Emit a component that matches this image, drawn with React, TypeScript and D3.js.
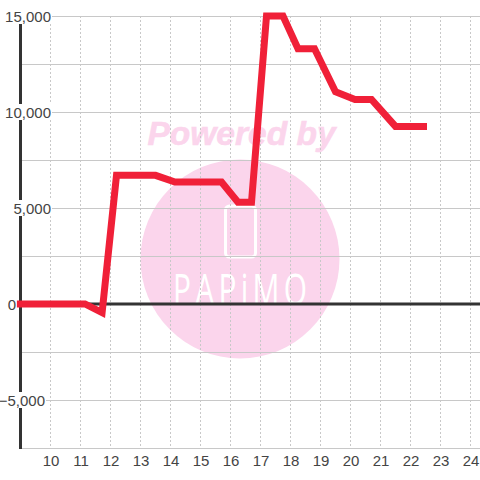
import { useRef, useEffect } from "react";
import * as d3 from "d3";

const WIDTH = 480;
const HEIGHT = 480;

const HOURS = [10, 11, 12, 13, 14, 15, 16, 17, 18, 19, 20, 21, 22, 23, 24];
const MAJOR_TICKS = [15000, 10000, 5000, 0, -5000];
const MINOR_TICKS = [12500, 7500, 2500, -2500, -7500];
// right edge of each y label, the original chart does not line them up
const LABEL_RIGHT = [51, 51, 51, 16, 45];

const LINE_X = [8.88, 11.15, 11.72, 12.2, 13.5, 14.15, 15.7, 16.25, 16.7, 17.2, 17.75, 18.25, 18.8, 19.5, 20.15, 20.7, 21.5, 22.55];
const LINE_Y = [0, 0, -450, 6700, 6700, 6350, 6350, 5300, 5300, 15000, 15000, 13300, 13300, 11050, 10650, 10650, 9250, 9250];

const GRID = "#c8c8c8";
const AXIS = "#333333";
const TEXT = "#444444";
const RED = "#f02038";
const PINK = "#fbd5ec";

export default function App() {
  const svgRef = useRef<SVGSVGElement>(null);

  useEffect(() => {
    const svg = d3.select(svgRef.current);
    svg.selectAll("*").remove();

    const x = d3.scaleLinear().domain([10, 24]).range([50.5, 470.5]);
    const y = d3.scaleLinear().domain([15000, -7500]).range([16, 448]);
    const font = "'Liberation Sans', Arial, sans-serif";

    // Watermark
    const mark = svg.append("g");
    mark.append("text")
      .attr("x", 241.5)
      .attr("y", 145)
      .attr("text-anchor", "middle")
      .attr("font-family", font)
      .attr("font-size", 33.5)
      .attr("font-weight", 700)
      .attr("font-style", "italic")
      .attr("fill", PINK)
      .attr("stroke", PINK)
      .attr("stroke-width", 0.6)
      .text("Powered by");
    mark.append("circle")
      .attr("cx", 240)
      .attr("cy", 259)
      .attr("r", 99.5)
      .attr("fill", PINK);
    mark.append("rect")
      .attr("x", 225.5)
      .attr("y", 206)
      .attr("width", 30)
      .attr("height", 51)
      .attr("rx", 4)
      .attr("fill", "none")
      .attr("stroke", "#fff")
      .attr("stroke-width", 3);
    mark.append("text")
      .attr("transform", "translate(173,305) scale(0.68,1)")
      .attr("textLength", 197)
      .attr("lengthAdjust", "spacing")
      .attr("font-family", "'Open Sans', sans-serif")
      .attr("font-size", 44)
      .attr("font-weight", 400)
      .attr("fill", "#fff")
      .text("PAPiMO");

    // Grid
    svg.selectAll("line.minor")
      .data(MINOR_TICKS)
      .enter()
      .append("line")
      .attr("x1", 20)
      .attr("x2", WIDTH)
      .attr("y1", (d) => Math.round(y(d)) + 0.5)
      .attr("y2", (d) => Math.round(y(d)) + 0.5)
      .attr("stroke", GRID);
    svg.selectAll("line.major")
      .data(MAJOR_TICKS)
      .enter()
      .append("line")
      .attr("x1", 20)
      .attr("x2", WIDTH)
      .attr("y1", (d) => Math.round(y(d)) + 0.5)
      .attr("y2", (d) => Math.round(y(d)) + 0.5)
      .attr("stroke", GRID);
    svg.selectAll("line.hour")
      .data(HOURS)
      .enter()
      .append("line")
      .attr("x1", (d) => x(d))
      .attr("x2", (d) => x(d))
      .attr("y1", 16)
      .attr("y2", 448)
      .attr("stroke", GRID)
      .attr("stroke-dasharray", "2,2");

    // Axes
    svg.append("line")
      .attr("x1", x(9))
      .attr("x2", x(9))
      .attr("y1", 16)
      .attr("y2", 449)
      .attr("stroke", AXIS)
      .attr("stroke-width", 3);
    svg.append("line")
      .attr("x1", x(9))
      .attr("x2", WIDTH)
      .attr("y1", y(0))
      .attr("y2", y(0))
      .attr("stroke", AXIS)
      .attr("stroke-width", 3);

    // Y labels sit on white boxes that cut the axis
    const labels = svg.selectAll("g.ylabel")
      .data(MAJOR_TICKS)
      .enter()
      .append("g")
      .attr("class", "ylabel");
    labels.each(function (this: SVGGElement, d, i) {
      const g = d3.select(this);
      const text = g.append("text")
        .attr("x", LABEL_RIGHT[i])
        .attr("y", y(d) + 5.5)
        .attr("text-anchor", "end")
        .attr("font-family", font)
        .attr("font-size", 15)
        .attr("fill", TEXT)
        .text(d3.format(",")(d));
      const w = (text.node() as SVGTextElement).getComputedTextLength();
      g.insert("rect", "text")
        .attr("x", LABEL_RIGHT[i] - w - 1)
        .attr("y", y(d) - 8)
        .attr("width", w + 2)
        .attr("height", 16)
        .attr("fill", "#fff");
    });

    svg.selectAll("text.hour")
      .data(HOURS)
      .enter()
      .append("text")
      .attr("x", (d) => x(d) + 0.5)
      .attr("y", 466)
      .attr("text-anchor", "middle")
      .attr("font-family", font)
      .attr("font-size", 15)
      .attr("fill", TEXT)
      .text((d) => d);

    // Data line
    const line = d3.line<number>()
      .x((d) => x(d))
      .y((_d, i) => y(LINE_Y[i]));
    svg.append("path")
      .attr("d", line(LINE_X))
      .attr("fill", "none")
      .attr("stroke", RED)
      .attr("stroke-width", 7)
      .attr("stroke-linejoin", "miter");
  }, []);

  return (
    <svg
      ref={svgRef}
      width={WIDTH}
      height={HEIGHT}
      viewBox={`0 0 ${WIDTH} ${HEIGHT}`}
      style={{ position: "absolute", left: 0, top: 0, display: "block" }}
    />
  );
}
